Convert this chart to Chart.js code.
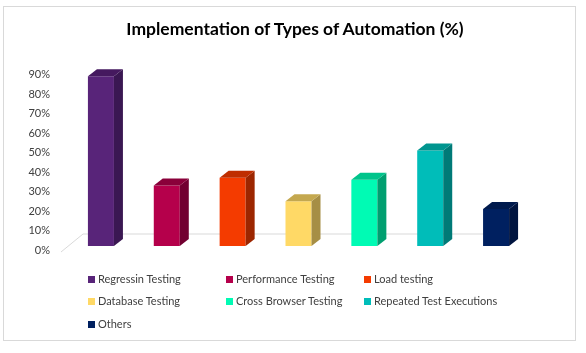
<!DOCTYPE html>
<html>
<head>
<meta charset="utf-8">
<script src="https://cdn.jsdelivr.net/npm/chart.js@4"></script>
<style>
  body { margin: 0; background: #fff; }
  #wrap { position: relative; width: 586px; height: 353px; }
  #frame { position: absolute; left: 3px; top: 6px; width: 573px; height: 335px; border: 1px solid #d9d9d9; box-sizing: border-box; pointer-events: none; }
  #titulo { position: absolute; left: 195px; width: 200px; top: 18px; text-align: center; white-space: nowrap; display: flex; justify-content: center;
            font-family: Lato, "Open Sans", sans-serif; font-weight: bold; font-size: 17.5px; line-height: 22px; color: #000; }
  #legend { position: absolute; left: 0; top: 0; font-family: Lato, "Open Sans", sans-serif; font-size: 11px; color: #404040; }
  .item { position: absolute; white-space: nowrap; line-height: 14px; }
  .item i { position: absolute; left: -10px; top: 4px; width: 7px; height: 7px; }
</style>
</head>
<body>
<div id="wrap">
  <canvas id="grafico" width="586" height="353"></canvas>
  <div id="frame"></div>
  <div id="titulo">Implementation of Types of Automation (%)</div>
  <div id="legend"></div>
</div>
<script>
// dados do grafico
var categorias = ["Regressin Testing", "Performance Testing", "Load testing", "Database Testing", "Cross Browser Testing", "Repeated Test Executions", "Others"];
var valores = [87, 31, 35, 23, 34, 49, 19];
var ticksY = [0, 10, 20, 30, 40, 50, 60, 70, 80, 90];

// cores: frente, lado, topo
var corFrente = ["#582479", "#b5004b", "#f43b00", "#ffd966", "#00fbb4", "#00bdb9", "#002060"];
var corLado = ["#3a1752", "#720031", "#9c2600", "#a68e45", "#009f70", "#007a77", "#00143f"];
var corTopo = ["#45195f", "#8a003a", "#bf2e00", "#c4a84f", "#00c48b", "#00958f", "#001a4d"];

var DX = 9, DY = 7;

// desenha o efeito 3D das barras
var efeito3d = {
    id: 'efeito3d',
    beforeDatasetsDraw: function(chart) {
        var ctx = chart.ctx;
        var y0 = chart.scales.y.getPixelForValue(0);
        ctx.save();
        ctx.strokeStyle = '#d9d9d9';
        ctx.lineWidth = 1;
        ctx.beginPath();
        ctx.moveTo(61, y0 + 6);
        ctx.lineTo(83, y0 - 12);
        ctx.lineTo(518, y0 - 12);
        ctx.stroke();
        ctx.restore();
    },
    afterDatasetsDraw: function(chart) {
        var ctx = chart.ctx;
        var meta = chart.getDatasetMeta(0);
        ctx.save();
        for (let i = 0; i < meta.data.length; i++) {
            let bar = meta.data[i];
            let w = bar.width / 2;
            // lado
            ctx.fillStyle = corLado[i];
            ctx.beginPath();
            ctx.moveTo(bar.x + w, bar.y);
            ctx.lineTo(bar.x + w + DX, bar.y - DY);
            ctx.lineTo(bar.x + w + DX, bar.base - DY);
            ctx.lineTo(bar.x + w, bar.base);
            ctx.closePath();
            ctx.fill();
            // topo
            ctx.fillStyle = corTopo[i];
            ctx.beginPath();
            ctx.moveTo(bar.x - w, bar.y);
            ctx.lineTo(bar.x - w + DX, bar.y - DY);
            ctx.lineTo(bar.x + w + DX, bar.y - DY);
            ctx.lineTo(bar.x + w, bar.y);
            ctx.closePath();
            ctx.fill();
        }
        ctx.restore();
    }
};

new Chart("grafico", {
    type: "bar",
    data: {
        labels: categorias,
        datasets: [{
            data: valores,
            backgroundColor: corFrente,
            borderWidth: 0,
            barPercentage: 0.79,
            categoryPercentage: 0.5
        }]
    },
    options: {
        responsive: false,
        animation: false,
        layout: { padding: { left: 0, right: 57, top: 70.5, bottom: 107 } },
        plugins: {
            legend: { display: false },
            tooltip: { enabled: false },
            title: { display: false }
        },
        scales: {
            x: { display: false },
            y: {
                min: 0,
                max: 90,
                afterBuildTicks: function(scale) {
                    scale.ticks = ticksY.map(function(v) { return { value: v }; });
                },
                afterFit: function(scale) { scale.width = 68; },
                border: { display: false },
                grid: { display: false, drawTicks: false },
                ticks: {
                    padding: 18,
                    labelOffset: 4,
                    color: "#404040",
                    font: { family: "Lato", size: 11 },
                    callback: function(v) { return v + "%"; }
                }
            }
        }
    },
    plugins: [efeito3d]
});

// legenda em html (3 colunas)
var colunasX = [98, 236, 374];
var linhasY = [272, 294, 317];
var html = '';
for (let i = 0; i < categorias.length; i++) {
    let x = colunasX[i % 3];
    let y = linhasY[Math.floor(i / 3)];
    html += '<div class="item" style="left:' + x + 'px;top:' + y + 'px">' +
            '<i style="background:' + corFrente[i] + '"></i>' + categorias[i] + '</div>';
}
document.getElementById('legend').innerHTML = html;
</script>
</body>
</html>
